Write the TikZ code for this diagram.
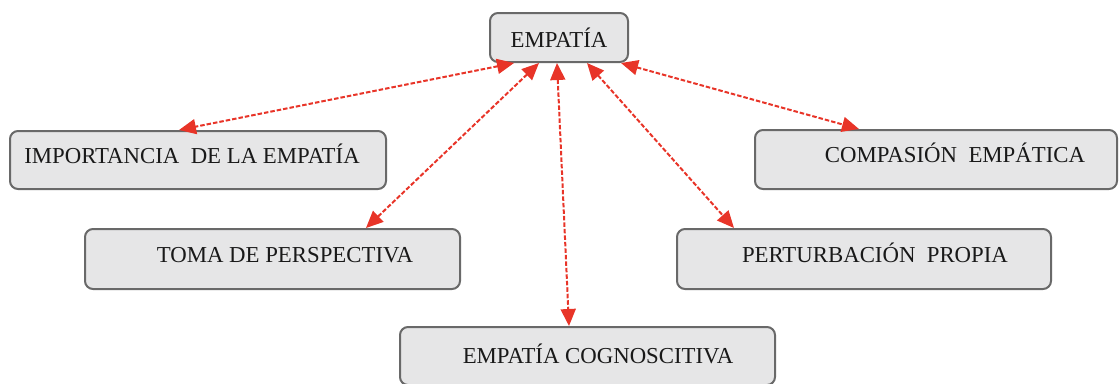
\documentclass[tikz,border=0pt]{standalone}
\usepackage{fontspec}
\setmainfont{Liberation Serif}
\usetikzlibrary{arrows.meta}

\definecolor{boxfill}{RGB}{230,230,231}
\definecolor{boxline}{RGB}{105,105,105}
\definecolor{linkred}{RGB}{232,52,40}
\definecolor{ink}{RGB}{25,25,25}

\tikzset{
  conceptbox/.style={draw=boxline, fill=boxfill, line width=2pt,
    rounded corners=8pt, inner sep=0pt, text=ink,
    font=\fontsize{22.8}{25}\selectfont,
    text height=14.9pt, text depth=0pt},
  link/.style={draw=linkred, line width=2pt, dash pattern=on 4.5pt off 2pt,
    {Triangle[length=17pt,width=15pt,fill=linkred]}-{Triangle[length=17pt,width=15pt,fill=linkred]}}
}

\begin{document}
\begin{tikzpicture}[x=1pt,y=-1pt]
\useasboundingbox (0,0) rectangle (1119,383);

% concept boxes
\node[conceptbox, minimum width=138pt, minimum height=49pt, text height=20.9pt]
  (emp) at (559,37.5) {EMPATÍA};
\node[conceptbox, minimum width=376pt, minimum height=58pt, text depth=8pt]
  (imp) at (198,160) {IMPORTANCIA\ \ DE LA EMPATÍA\hspace*{12pt}};
\node[conceptbox, minimum width=362pt, minimum height=59pt, text depth=8pt]
  (comp) at (936,159.5) {\hspace*{38pt}COMPASIÓN\ \ EMPÁTICA};
\node[conceptbox, minimum width=375pt, minimum height=60pt, text depth=7pt]
  (toma) at (272.5,259) {\hspace*{25pt}TOMA DE PERSPECTIVA};
\node[conceptbox, minimum width=374pt, minimum height=60pt, text depth=8pt]
  (pert) at (864,259) {\hspace*{22pt}PERTURBACIÓN\ \ PROPIA};
\node[conceptbox, minimum width=375pt, minimum height=58pt]
  (cog) at (587.5,356) {\hspace*{21pt}EMPATÍA COGNOSCITIVA};

% two-way links from the central concept
\draw[link] ([xshift=25pt]emp.south west) -- ([xshift=170pt]imp.north west);
\draw[link] ([xshift=50pt]emp.south west) -- ([xshift=282pt]toma.north west);
\draw[link] ([xshift=68pt]emp.south west) -- ([xshift=170pt]cog.north west);
\draw[link] ([xshift=98pt]emp.south west) -- ([xshift=58pt]pert.north west);
\draw[link] ([xshift=-8pt]emp.south east) -- ([xshift=105pt]comp.north west);
\end{tikzpicture}
\end{document}
